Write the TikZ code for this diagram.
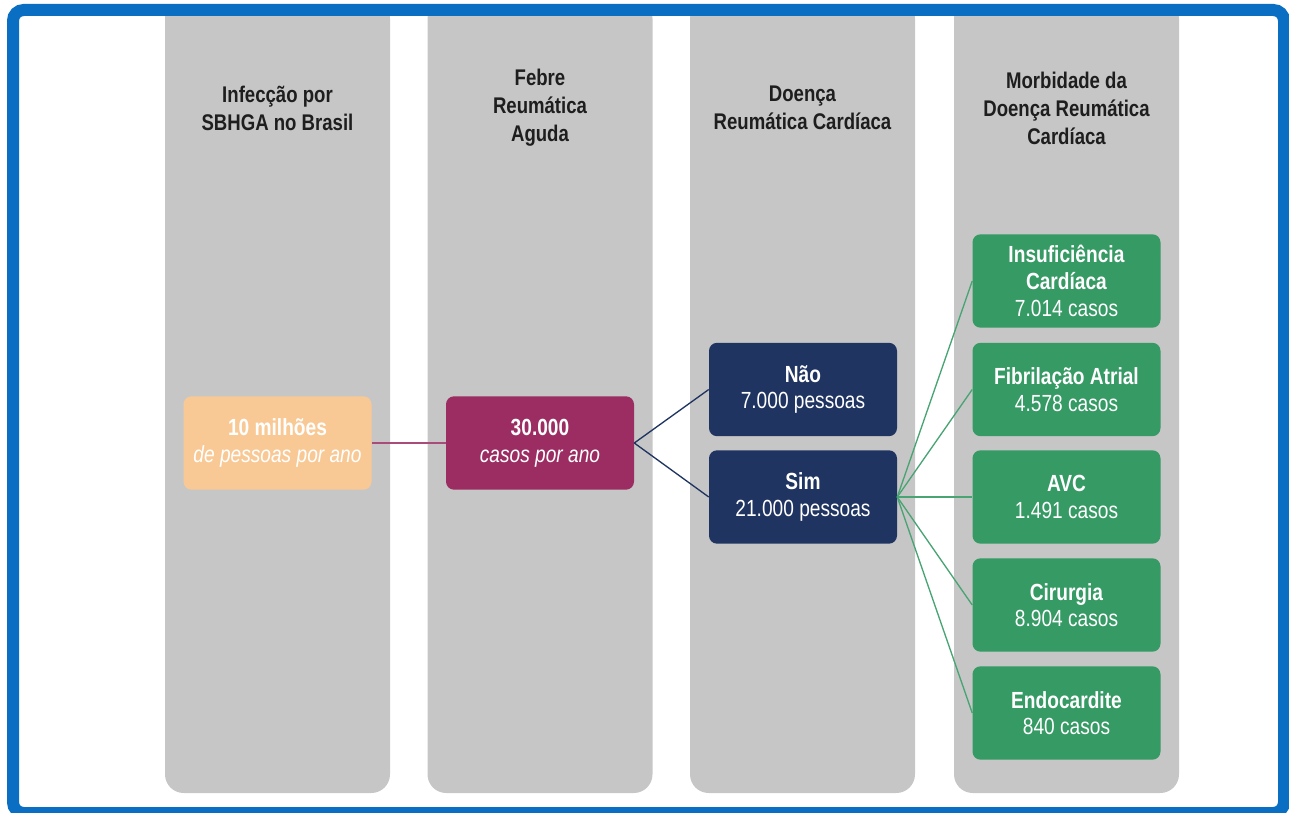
\documentclass[tikz,border=0pt]{standalone}
\usepackage{fontspec}
\setmainfont{Liberation Sans}[FakeStretch=0.82]

\definecolor{frameblue}{HTML}{0A6FC2}
\definecolor{colgray}{HTML}{C6C6C6}
\definecolor{headtext}{HTML}{1E1E1E}
\definecolor{peach}{HTML}{F9C995}
\definecolor{wine}{HTML}{9B2D62}
\definecolor{navy}{HTML}{1F3461}
\definecolor{leaf}{HTML}{359A64}

\begin{document}
\begin{tikzpicture}[x=0.75pt,y=-0.75pt,
  head/.style={align=center,text=headtext,font=\fontsize{17}{21}\selectfont\bfseries},
  box/.style={rounded corners=6pt,minimum width=141pt,minimum height=70pt,
    inner sep=2pt,align=center,text=white,font=\fontsize{17.5}{20}\selectfont},
  link/.style={line width=1pt}]
  \useasboundingbox (0,0) rectangle (1289,813);
  \clip (0,0) rectangle (1289,813);

  % gray columns, open at the top
  \begin{scope}
    \clip (0,16) rectangle (1289,813);
    \foreach \cx in {277.5,540,802.5,1066.5} {
      \fill[colgray,rounded corners=14pt] (\cx-112.5,0) rectangle (\cx+112.5,793);
    }
  \end{scope}

  % outer frame
  \draw[frameblue,line width=9pt,rounded corners=8pt] (13,10) rectangle (1284,813);

  % column titles
  \foreach \cx/\head [count=\i] in {
      277.5/{Infecção por\\SBHGA no Brasil},
      540/{Febre\\Reumática\\Aguda},
      802.5/{Doença\\Reumática Cardíaca},
      1066.5/{Morbidade da\\Doença Reumática\\Cardíaca}} {
    \node[head] (h\i) at (\cx,108) {\head};
  }

  \node[box,fill=peach] (inf) at (277.5,443) {\textbf{10 milhões}\\\textit{de pessoas por ano}};
  \node[box,fill=wine] (fra) at (540,443) {\textbf{30.000}\\\textit{casos por ano}};
  \node[box,fill=navy] (nao) at (803,389.5) {\textbf{Não}\\7.000 pessoas};
  \node[box,fill=navy] (sim) at (803,497) {\textbf{Sim}\\21.000 pessoas};

  \foreach \nm/\yy/\txt in {
      ic/281/{\textbf{Insuficiência}\\\textbf{Cardíaca}\\7.014 casos},
      fa/389.5/{\textbf{Fibrilação Atrial}\\4.578 casos},
      avc/497/{\textbf{AVC}\\1.491 casos},
      cir/605/{\textbf{Cirurgia}\\8.904 casos},
      endo/713/{\textbf{Endocardite}\\840 casos}} {
    \node[box,fill=leaf] (\nm) at (1066.5,\yy) {\txt};
  }

  % connectors
  \draw[link,wine!85] (inf.east) -- (fra.west);
  \draw[link,navy] (fra.east) -- (nao.west);
  \draw[link,navy] (fra.east) -- (sim.west);
  \foreach \nm in {ic,fa,avc,cir,endo}
    \draw[link,leaf!90!white] (sim.east) -- (\nm.west);
\end{tikzpicture}
\end{document}
